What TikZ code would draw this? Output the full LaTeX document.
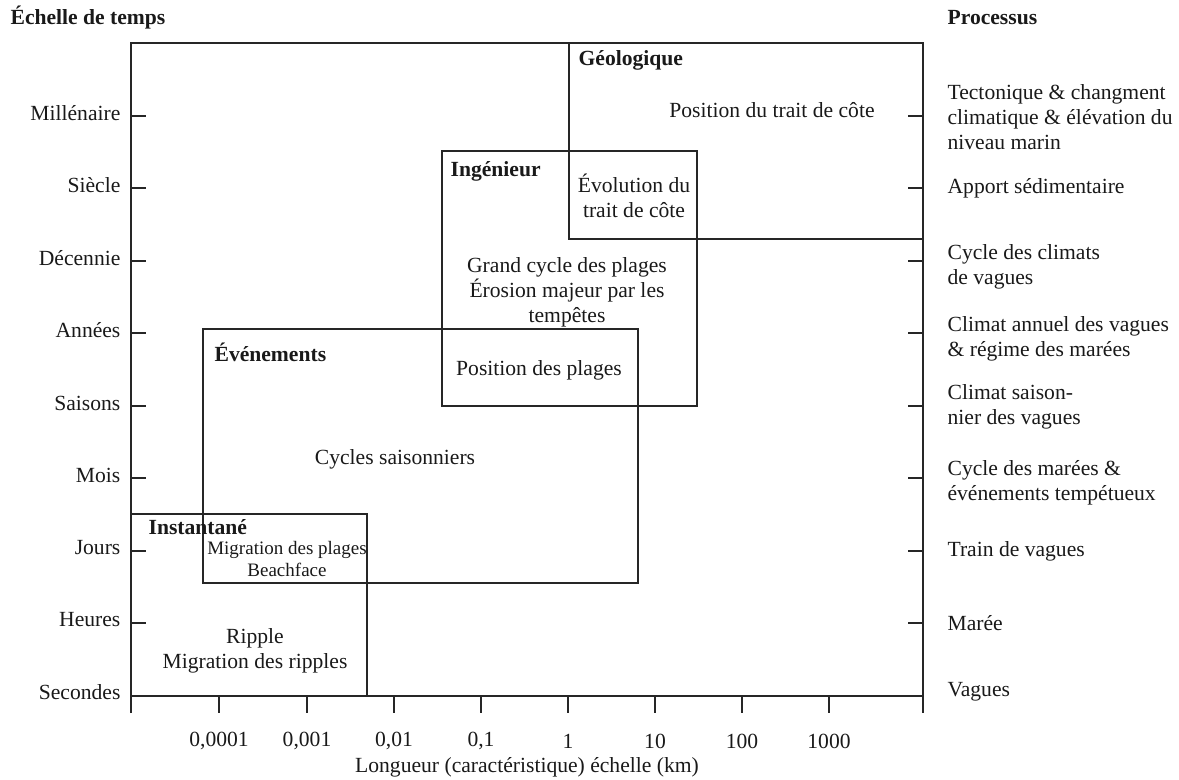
\documentclass[tikz,border=0pt]{standalone}
\usepackage{fontspec}
\setmainfont{Liberation Serif}

\begin{document}
\begin{tikzpicture}[x=0.5pt,y=-0.5pt,line width=0.6pt,draw=black!85,
  every node/.style={font=\fontsize{10.8}{12.5}\selectfont,inner sep=0pt,text=black!90},
  titre/.style={font=\fontsize{10.8}{12.5}\selectfont\bfseries},
  petit/.style={font=\fontsize{9.5}{11}\selectfont}]
\useasboundingbox (0,0) rectangle (1179,780);
\newcommand\echelle[3]{
\path[draw,-] (131,#2) -- (146,#2);
\path[draw,-] (908,#2) -- (923,#2);
\node[anchor=east] (#1) at (121,#2-3) {#3};
}
\newcommand\processus[3]{
\node[anchor=west,align=left] (#1) at (947,#2) {#3};
}
\newcommand\longueur[3]{
\path[draw,-] (#1,696) -- (#1,713);
\node (#2) at (#1,741) {#3};
}
\newcommand\boite[4]{
\path[draw,-] (#1,#2) rectangle (#3,#4);
}

% cadre et axes
\path[draw,-] (131,713) -- (131,43) -- (923,43) -- (923,713);
\path[draw,-] (131,696) -- (923,696);
\node[titre,anchor=west] (ttemps) at (10,18) {Échelle de temps};
\node[titre,anchor=west] (tproc) at (947,18) {Processus};

\echelle{mil}{116}{Millénaire}
\echelle{sie}{188}{Siècle}
\echelle{dec}{261}{Décennie}
\echelle{ann}{333}{Années}
\echelle{sai}{406}{Saisons}
\echelle{moi}{478}{Mois}
\echelle{jou}{551}{Jours}
\echelle{heu}{623}{Heures}
\node[anchor=east] (sec) at (121,692) {Secondes};

\processus{ptec}{117}{Tectonique \& changment\\climatique \& élévation du\\niveau marin}
\processus{papp}{188}{Apport sédimentaire}
\processus{pcyc}{267}{Cycle des climats\\de vagues}
\processus{pann}{339}{Climat annuel des vagues\\\& régime des marées}
\processus{psai}{407}{Climat saison-\\nier des vagues}
\processus{pmar}{483}{Cycle des marées \&\\événements tempétueux}
\processus{ptra}{551}{Train de vagues}
\processus{pmaree}{623}{Marée}
\processus{pvag}{692}{Vagues}

\longueur{219}{l4}{0,0001}
\longueur{307}{l3}{0,001}
\longueur{394}{l2}{0,01}
\longueur{481}{l1}{0,1}
\longueur{568}{l0}{1}
\longueur{655}{lp1}{10}
\longueur{742}{lp2}{100}
\longueur{829}{lp3}{1000}
\node (axe) at (527,767) {Longueur (caractéristique) échelle (km)};

% domaines
\boite{569}{43}{923}{239}
\boite{442}{151}{697}{406}
\boite{203}{329}{638}{583}
\boite{131}{514}{367}{696}

\node[titre,anchor=west] (geo) at (578,60) {Géologique};
\node (geotxt) at (772,110) {Position du trait de côte};
\node[align=center] (evo) at (634,196) {Évolution du\\trait de côte};
\node[titre,anchor=west] (ing) at (450,171) {Ingénieur};
\node[align=center] (ingtxt) at (567,292) {Grand cycle des plages\\Érosion majeur par les\\tempêtes};
\node[titre,anchor=west] (eve) at (214,352) {Événements};
\node (posp) at (539,370) {Position des plages};
\node (cycs) at (395,459) {Cycles saisonniers};
\node[titre,anchor=west] (ins) at (148,527) {Instantané};
\node[petit,align=center] (migp) at (287,559) {Migration des plages\\Beachface};
\node[align=center] (rip) at (255,651) {Ripple\\Migration des ripples};
\end{tikzpicture}
\end{document}
